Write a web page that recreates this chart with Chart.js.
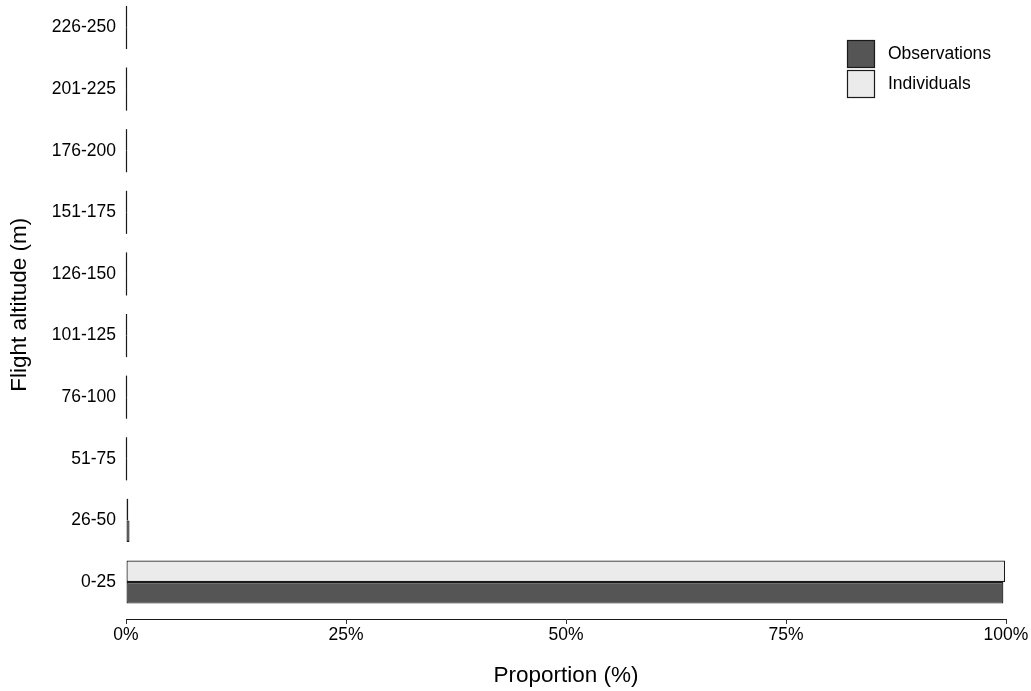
<!DOCTYPE html>
<html>
<head>
<meta charset="utf-8">
<script src="https://cdn.jsdelivr.net/npm/chart.js@4.4.1/dist/chart.umd.min.js"></script>
<style>
  html, body { margin: 0; padding: 0; background: #fff; overflow: hidden; }
  #wrap { position: absolute; left: 0; top: -30px; width: 1031px; height: 721px; }
</style>
</head>
<body>
<div id="wrap"><canvas id="c" width="1031" height="721"></canvas></div>
<script>
// Data (proportion in %)
const categories = ["0-25","26-50","51-75","76-100","101-125","126-150","151-175","176-200","201-225","226-250"];
const observations = [99.7, 0.4, 0, 0, 0, 0, 0, 0, 0, 0];
const individuals  = [99.9, 0.1, 0, 0, 0, 0, 0, 0, 0, 0];
const xTicks = [0, 25, 50, 75, 100];
const seriesNames = ["Observations", "Individuals"];
const seriesColors = ["#555555", "#ebebeb"];

const FONT = "'Liberation Sans', Arial, sans-serif";
const toPoints = arr => arr.map((v, i) => ({ x: v, y: i + 1 }));

const zeroLines = {
  id: 'zeroLines',
  afterDatasetsDraw(chart) {
    const ctx = chart.ctx;
    ctx.save();
    ctx.strokeStyle = '#1a1a1a';
    ctx.lineWidth = 1.2;
    chart.data.datasets.forEach((ds, di) => {
      const meta = chart.getDatasetMeta(di);
      meta.data.forEach(el => {
        if (Math.abs(el.x - el.base) < 1.5) {
          const x = Math.round(el.base) + 0.5;
          ctx.beginPath();
          ctx.moveTo(x, el.y - el.height / 2);
          ctx.lineTo(x, el.y + el.height / 2);
          ctx.stroke();
        }
      });
    });
    ctx.restore();
  }
};

const customLegend = {
  id: 'customLegend',
  afterDraw(chart) {
    const ctx = chart.ctx;
    ctx.save();
    const x0 = 847, y0 = 70, box = 27, gap = 30;
    ctx.font = '17.5px ' + FONT;
    ctx.textBaseline = 'middle';
    ctx.textAlign = 'left';
    seriesNames.forEach((name, i) => {
      const y = y0 + i * gap;
      ctx.fillStyle = seriesColors[i];
      ctx.fillRect(x0, y, box, box);
      ctx.strokeStyle = '#1a1a1a';
      ctx.lineWidth = 1.2;
      ctx.strokeRect(x0 + 0.5, y + 0.5, box, box);
      ctx.fillStyle = '#000';
      ctx.fillText(name, x0 + 41, y + box / 2 + 1);
    });
    ctx.restore();
  }
};

new Chart(document.getElementById('c'), {
  type: 'bar',
  data: {
    datasets: [
      { label: seriesNames[1], data: toPoints(individuals), backgroundColor: seriesColors[1], borderColor: '#1a1a1a', borderWidth: 1.2, borderSkipped: false },
      { label: seriesNames[0], data: toPoints(observations), backgroundColor: seriesColors[0], borderColor: '#1a1a1a', borderWidth: 1.2, borderSkipped: false }
    ]
  },
  options: {
    indexAxis: 'y',
    responsive: false,
    animation: false,
    layout: { padding: { left: 0, right: 25, top: 0, bottom: 0 } },
    datasets: { bar: { categoryPercentage: 0.7, barPercentage: 1.0 } },
    plugins: { legend: { display: false }, tooltip: { enabled: false } },
    scales: {
      x: {
        type: 'linear',
        min: 0, max: 100,
        afterBuildTicks: axis => { axis.ticks = xTicks.map(v => ({ value: v })); },
        afterFit: axis => { axis.height = 72; },
        grid: { display: true, drawOnChartArea: false, drawTicks: true, tickLength: 5, color: '#333', lineWidth: 1 },
        border: { display: true, color: '#1a1a1a', width: 1 },
        ticks: { color: '#000', font: { family: FONT, size: 17.5 }, padding: 1, callback: v => v + '%', maxRotation: 0 },
        title: { display: true, text: 'Proportion (%)', color: '#000', font: { family: FONT, size: 22.5 }, padding: { top: 8, bottom: 2 } }
      },
      y: {
        type: 'linear',
        offset: false,
        min: 0.4, max: 10.6,
        afterBuildTicks: axis => { axis.ticks = categories.map((c, i) => ({ value: i + 1 })); },
        afterFit: axis => { axis.width = 126; },
        grid: { display: false, drawTicks: false, offset: false },
        border: { display: false },
        ticks: { color: '#000', font: { family: FONT, size: 17.5 }, padding: 10, callback: v => categories[v - 1] ?? '' },
        title: { display: true, text: 'Flight altitude (m)', color: '#000', font: { family: FONT, size: 22.5 }, padding: { top: 6, bottom: 0 } }
      }
    }
  },
  plugins: [zeroLines, customLegend]
});
</script>
</body>
</html>
